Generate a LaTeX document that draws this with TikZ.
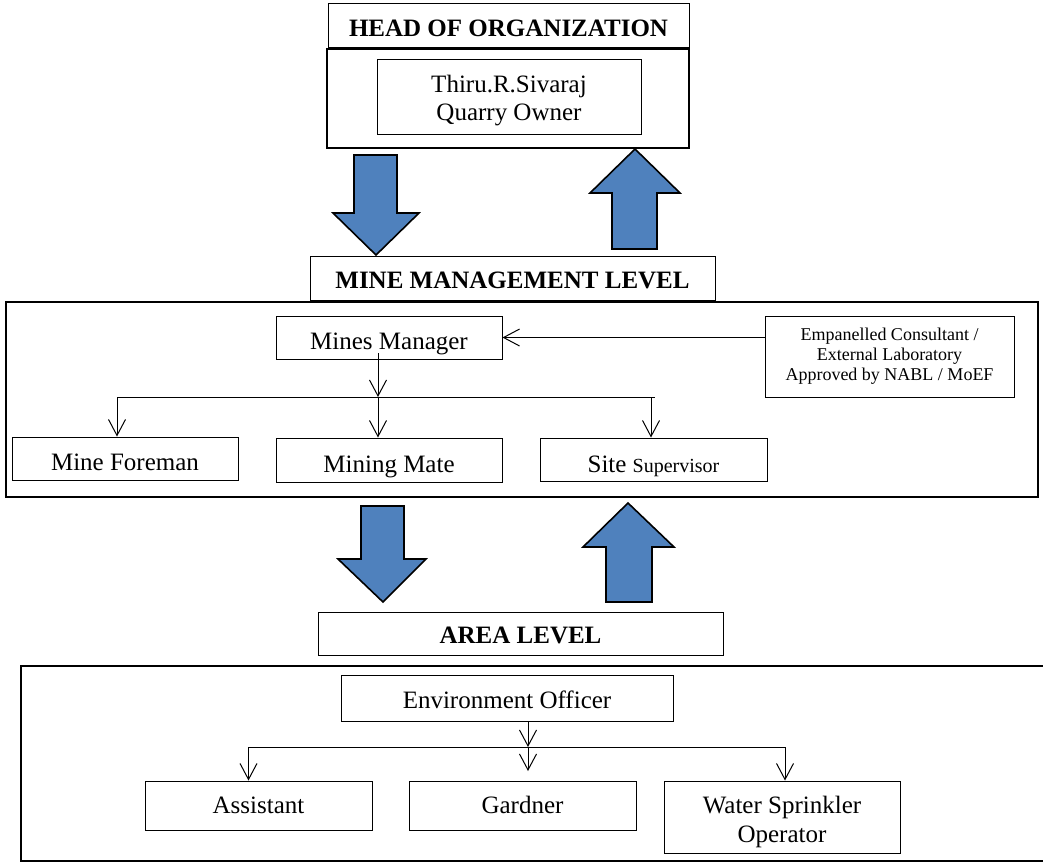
\documentclass[tikz,border=0pt]{standalone}
\usepackage{fontspec}
\setmainfont{Liberation Serif}
\usetikzlibrary{arrows.meta}
\definecolor{arrowblue}{HTML}{4F81BD}
\newcommand{\mainsize}{\fontsize{12.5}{14}\selectfont}
\newcommand{\smallsize}{\fontsize{9}{10}\selectfont}
\newcommand{\supsize}{\fontsize{10}{12}\selectfont}
\begin{document}
\begin{tikzpicture}[x=0.5pt,y=-0.5pt,
  box/.style={draw, line width=0.5pt, inner sep=0pt, font=\mainsize},
  headbox/.style={box, font=\mainsize\bfseries},
  bl/.style={text height=#1, text depth=0pt},
  frame/.style={draw, line width=1.3pt},
  conn/.style={line width=0.5pt, -{Straight Barb[length=8pt,width=8.5pt]}},
  plain/.style={line width=0.5pt},
  block/.style={fill=arrowblue, draw=black, line width=0.8pt, line join=miter},
]
\fill[white] (0,0) rectangle (1043,864);
\useasboundingbox (0,0) rectangle (1043,864);

% ---------- top level ----------
\node[headbox, bl=11pt, minimum width=180.5pt, minimum height=22pt] (head) at (508.5,25) {HEAD OF ORGANIZATION};
\draw[frame] (327,49) rectangle (689,148);
\node[box, align=center, minimum width=132pt, minimum height=37.5pt] (owner) at (509,96.5)
  {\rule{0pt}{12.2pt}Thiru.R.Sivaraj\\Quarry Owner};

% block arrows (top)
\draw[block] (354,155) -- (397,155) -- (397,213) -- (419,213) -- (376,255) -- (333,213) -- (354,213) -- cycle;
\draw[block] (635,149) -- (680,193) -- (657,193) -- (657,249) -- (612,249) -- (612,193) -- (590,193) -- cycle;

% ---------- mine management level ----------
\node[headbox, bl=10pt, minimum width=202.5pt, minimum height=22pt] (mml) at (512.5,278) {MINE MANAGEMENT LEVEL};
\draw[frame] (6,302) rectangle (1038,497);

\node[box, bl=11.5pt, minimum width=113pt, minimum height=21.5pt] (mm) at (389,337.5) {Mines Manager};
\node[box, align=center, font=\smallsize, minimum width=124.5pt, minimum height=40.5pt] (cons) at (889.5,356.5)
  {Empanelled Consultant /\\External Laboratory\\Approved by NABL / MoEF};
\node[box, bl=11.5pt, minimum width=113pt, minimum height=21.5pt] (mf) at (125,458.5) {Mine Foreman};
\node[box, bl=12pt, minimum width=113pt, minimum height=22pt] (mate) at (389,460) {Mining Mate};
\node[box, bl=12.5pt, minimum width=113.5pt, minimum height=21.5pt] (sup) at (653.5,459.5) {Site {\supsize Supervisor}};

\draw[conn] (cons.west |- mm.east) -- (mm.east);
\coordinate (j1) at (378,397);
\coordinate (j1s) at (378,353);
\coordinate (hl) at (117,397);
\coordinate (hr) at (655,397);
\coordinate (jr) at (651,397);
\draw[conn] (j1s) -- (j1);
\draw[plain] (hl) -- (hr);
\draw[conn] (hl) -- (hl |- mf.north);
\draw[conn] (j1) -- (j1 |- mate.north);
\draw[conn] (jr) -- (jr |- sup.north);

% block arrows (middle)
\draw[block] (361,506) -- (404,506) -- (404,559) -- (426,559) -- (383,602) -- (338,559) -- (361,559) -- cycle;
\draw[block] (628,503) -- (674,547) -- (652,547) -- (652,602) -- (606,602) -- (606,547) -- (583,547) -- cycle;

% ---------- area level ----------
\node[headbox, bl=9.5pt, minimum width=202.5pt, minimum height=21.5pt] (area) at (520.5,633.5) {AREA LEVEL};
\draw[frame] (21,666) rectangle (1060,861);

\node[box, bl=10pt, minimum width=166pt, minimum height=23pt] (eo) at (507,698) {Environment Officer};
\node[box, bl=7.5pt, minimum width=113.5pt, minimum height=24.5pt] (asst) at (258.5,805.5) {Assistant};
\node[box, bl=7.5pt, minimum width=113.5pt, minimum height=24.5pt] (gard) at (522.5,805.5) {Gardner};
\node[box, align=center, font=\fontsize{12.5}{14.5}\selectfont, minimum width=118pt, minimum height=36pt] (wso) at (782,817)
  {\rule{0pt}{13.2pt}Water Sprinkler\\Operator};

\coordinate (j2) at (528,747);
\coordinate (hl2) at (248.5,747);
\coordinate (hr2) at (785,747);
\coordinate (gt) at (528,771);
\draw[conn] (j2 |- eo.south) -- (j2);
\draw[plain] (hl2) -- (hr2);
\draw[conn] (hl2) -- (hl2 |- asst.north);
\draw[conn] (j2) -- (gt);
\draw[conn] (hr2) -- (hr2 |- wso.north);
\end{tikzpicture}
\end{document}
